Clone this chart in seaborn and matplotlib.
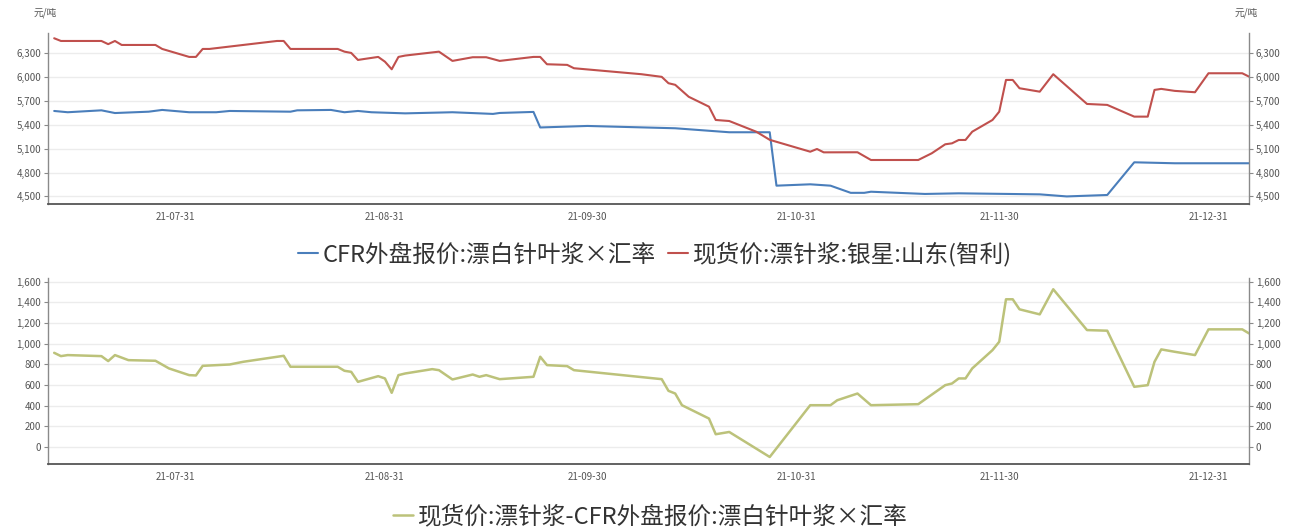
import matplotlib
matplotlib.use("Agg")
import matplotlib.pyplot as plt
import matplotlib.dates as mdates
from matplotlib.ticker import FuncFormatter, FixedLocator
import pandas as pd
import seaborn as sns

# ---------------- data ----------------
cfr_dates = ["2021-07-13", "2021-07-15", "2021-07-20", "2021-07-22", "2021-07-27", "2021-07-29",
             "2021-08-02", "2021-08-06", "2021-08-08", "2021-08-17", "2021-08-18", "2021-08-23",
             "2021-08-25", "2021-08-27", "2021-08-29", "2021-09-03", "2021-09-10", "2021-09-16",
             "2021-09-17", "2021-09-22", "2021-09-23", "2021-09-30", "2021-10-13", "2021-10-21",
             "2021-10-27", "2021-10-28", "2021-11-02", "2021-11-05", "2021-11-08", "2021-11-10",
             "2021-11-11", "2021-11-19", "2021-11-24", "2021-12-06", "2021-12-10", "2021-12-16",
             "2021-12-20", "2021-12-26", "2022-01-06"]
cfr_values = [5572, 5556, 5580, 5546, 5563, 5585,
              5556, 5556, 5572, 5563, 5580, 5585,
              5556, 5572, 5556, 5542, 5556, 5535,
              5547, 5560, 5365, 5384, 5355, 5305,
              5305, 4635, 4652, 4635, 4545, 4545,
              4559, 4531, 4539, 4526, 4500, 4518,
              4928, 4916, 4916]

spot_dates = ["2021-07-13", "2021-07-14", "2021-07-20", "2021-07-21", "2021-07-22", "2021-07-23",
              "2021-07-28", "2021-07-29", "2021-08-02", "2021-08-03", "2021-08-04", "2021-08-05",
              "2021-08-15", "2021-08-16", "2021-08-17", "2021-08-24", "2021-08-25", "2021-08-26",
              "2021-08-27", "2021-08-28", "2021-08-30", "2021-08-31", "2021-09-01", "2021-09-02",
              "2021-09-03", "2021-09-08", "2021-09-10", "2021-09-13", "2021-09-15", "2021-09-17",
              "2021-09-22", "2021-09-23", "2021-09-24", "2021-09-27", "2021-09-28", "2021-10-08",
              "2021-10-11", "2021-10-12", "2021-10-13", "2021-10-15", "2021-10-18", "2021-10-19",
              "2021-10-21", "2021-10-25", "2021-10-27", "2021-11-02", "2021-11-03", "2021-11-04",
              "2021-11-09", "2021-11-11", "2021-11-18", "2021-11-20", "2021-11-22", "2021-11-23",
              "2021-11-24", "2021-11-25", "2021-11-26", "2021-11-29", "2021-11-30", "2021-12-01",
              "2021-12-02", "2021-12-03", "2021-12-06", "2021-12-08", "2021-12-13", "2021-12-16",
              "2021-12-20", "2021-12-22", "2021-12-23", "2021-12-24", "2021-12-26", "2021-12-29",
              "2021-12-31", "2022-01-05", "2022-01-06"]
spot_values = [6484, 6450, 6450, 6410, 6450, 6400,
               6400, 6350, 6250, 6250, 6350, 6350,
               6450, 6450, 6350, 6350, 6316, 6300,
               6212, 6225, 6250, 6190, 6095, 6250,
               6267, 6316, 6200, 6246, 6246, 6200,
               6250, 6250, 6158, 6150, 6108, 6033,
               6000, 5920, 5900, 5750, 5626, 5459,
               5446, 5312, 5210, 5061, 5095, 5053,
               5054, 4957, 4957, 5041, 5154, 5166,
               5208, 5208, 5312, 5459, 5563, 5961,
               5961, 5857, 5814, 6033, 5660, 5648,
               5501, 5501, 5836, 5849, 5824, 5807,
               6045, 6045, 6003]

spread_dates = ["2021-07-13", "2021-07-14", "2021-07-15", "2021-07-20", "2021-07-21", "2021-07-22",
                "2021-07-24", "2021-07-28", "2021-07-30", "2021-08-02", "2021-08-03", "2021-08-04",
                "2021-08-08", "2021-08-10", "2021-08-16", "2021-08-17", "2021-08-24", "2021-08-25",
                "2021-08-26", "2021-08-27", "2021-08-30", "2021-08-31", "2021-09-01", "2021-09-02",
                "2021-09-03", "2021-09-07", "2021-09-08", "2021-09-10", "2021-09-13", "2021-09-14",
                "2021-09-15", "2021-09-17", "2021-09-22", "2021-09-23", "2021-09-24", "2021-09-27",
                "2021-09-28", "2021-10-11", "2021-10-12", "2021-10-13", "2021-10-14", "2021-10-18",
                "2021-10-19", "2021-10-21", "2021-10-27", "2021-11-02", "2021-11-05", "2021-11-06",
                "2021-11-09", "2021-11-11", "2021-11-18", "2021-11-22", "2021-11-23", "2021-11-24",
                "2021-11-25", "2021-11-26", "2021-11-29", "2021-11-30", "2021-12-01", "2021-12-02",
                "2021-12-03", "2021-12-06", "2021-12-08", "2021-12-13", "2021-12-16", "2021-12-20",
                "2021-12-22", "2021-12-23", "2021-12-24", "2021-12-26", "2021-12-29", "2021-12-31",
                "2022-01-05", "2022-01-06"]
spread_values = [911, 879, 889, 879, 831, 889,
                 840, 834, 760, 695, 692, 785,
                 798, 824, 882, 776, 776, 737,
                 727, 630, 685, 663, 524, 695,
                 711, 753, 743, 653, 701, 679,
                 695, 656, 679, 873, 792, 782,
                 743, 656, 543, 517, 404, 275,
                 123, 145, -97, 404, 404, 452,
                 517, 404, 414, 598, 614, 663,
                 663, 760, 937, 1018, 1429, 1429,
                 1332, 1283, 1526, 1131, 1125, 582,
                 598, 824, 944, 921, 889, 1138,
                 1138, 1099]

x_tick_dates = ["2021-07-31", "2021-08-31", "2021-09-30", "2021-10-31", "2021-11-30", "2021-12-31"]
top_yticks = [4500, 4800, 5100, 5400, 5700, 6000, 6300]
bottom_yticks = [0, 200, 400, 600, 800, 1000, 1200, 1400, 1600]

label_cfr = "CFR外盘报价:漂白针叶浆×汇率"
label_spot = "现货价:漂针浆:银星:山东(智利)"
label_spread = "现货价:漂针浆-CFR外盘报价:漂白针叶浆×汇率"
unit = "元/吨"

# ---------------- style ----------------
sns.set_style("white")
plt.rcParams["font.family"] = ["Noto Sans CJK SC", "DejaVu Sans"]

C_BLUE = "#4a7ebb"
C_RED = "#c0504d"
C_GREEN = "#bcc27a"
TICK_C = "#555555"
SPINE_C = "#8a8a8a"
GRID_C = "#ececec"

df_cfr = pd.DataFrame({"date": pd.to_datetime(cfr_dates), "v": cfr_values})
df_spot = pd.DataFrame({"date": pd.to_datetime(spot_dates), "v": spot_values})
df_spread = pd.DataFrame({"date": pd.to_datetime(spread_dates), "v": spread_values})

W, H = 1301, 529
fig = plt.figure(figsize=(W / 100, H / 100), dpi=100)
fig.patch.set_facecolor("white")

def frac(x0, y0, x1, y1):
    return [x0 / W, 1 - y1 / H, (x1 - x0) / W, (y1 - y0) / H]

ax1 = fig.add_axes(frac(48, 33, 1249, 204))
ax2 = fig.add_axes(frac(48, 278, 1249, 464))

sns.lineplot(data=df_cfr, x="date", y="v", ax=ax1, color=C_BLUE, linewidth=1.5,
             estimator=None, sort=False, label=label_cfr, legend=False)
sns.lineplot(data=df_spot, x="date", y="v", ax=ax1, color=C_RED, linewidth=1.5,
             estimator=None, sort=False, label=label_spot, legend=False)
sns.lineplot(data=df_spread, x="date", y="v", ax=ax2, color=C_GREEN, linewidth=1.8,
             estimator=None, sort=False, label=label_spread, legend=False)

xmin = pd.Timestamp("2021-07-12 02:00")
xmax = pd.Timestamp("2022-01-06 00:00")
xt = pd.to_datetime(x_tick_dates)

def style_axis(ax, yticks, ylim):
    ax.set_xlim(xmin, xmax)
    ax.set_ylim(*ylim)
    ax.set_xlabel("")
    ax.set_ylabel("")
    ax.yaxis.set_major_locator(FixedLocator(yticks))
    ax.yaxis.set_major_formatter(FuncFormatter(lambda v, p: f"{v:,.0f}"))
    ax.set_xticks(xt)
    ax.xaxis.set_major_formatter(mdates.DateFormatter("%y-%m-%d"))
    ax.grid(axis="y", color=GRID_C, linewidth=1.0)
    ax.grid(axis="x", visible=False)
    ax.set_axisbelow(True)
    ax.spines["top"].set_visible(False)
    for s in ["left", "right"]:
        ax.spines[s].set_visible(True)
        ax.spines[s].set_color(SPINE_C)
        ax.spines[s].set_linewidth(1.0)
    ax.spines["bottom"].set_color("#555555")
    ax.spines["bottom"].set_linewidth(1.3)
    ax.tick_params(axis="y", which="both", left=True, right=True, labelleft=True, labelright=True,
                   length=3, width=0.8, color=SPINE_C, labelsize=7, labelcolor=TICK_C, pad=2)
    ax.tick_params(axis="x", length=3, width=0.8, color="#555555", labelsize=7,
                   labelcolor=TICK_C, pad=3)

style_axis(ax1, top_yticks, (4405, 6550))
style_axis(ax2, bottom_yticks, (-165, 1635))

fig.text(45 / W, 1 - 13 / H, unit, ha="center", va="center", fontsize=7, color=TICK_C)
fig.text(1246 / W, 1 - 13 / H, unit, ha="center", va="center", fontsize=7, color=TICK_C)

h1, l1 = ax1.get_legend_handles_labels()
fig.legend(h1, l1, loc="center", bbox_to_anchor=(655 / W, 1 - 254 / H), ncol=2,
           frameon=False, fontsize=17, handlelength=0.85, handletextpad=0.2,
           columnspacing=0.5, labelcolor="#333333")
h2, l2 = ax2.get_legend_handles_labels()
fig.legend(h2, l2, loc="center", bbox_to_anchor=(650 / W, 1 - 517 / H), ncol=1,
           frameon=False, fontsize=17, handlelength=0.85, handletextpad=0.2,
           labelcolor="#333333")

fig.savefig("out.png", dpi=100, facecolor="white")
